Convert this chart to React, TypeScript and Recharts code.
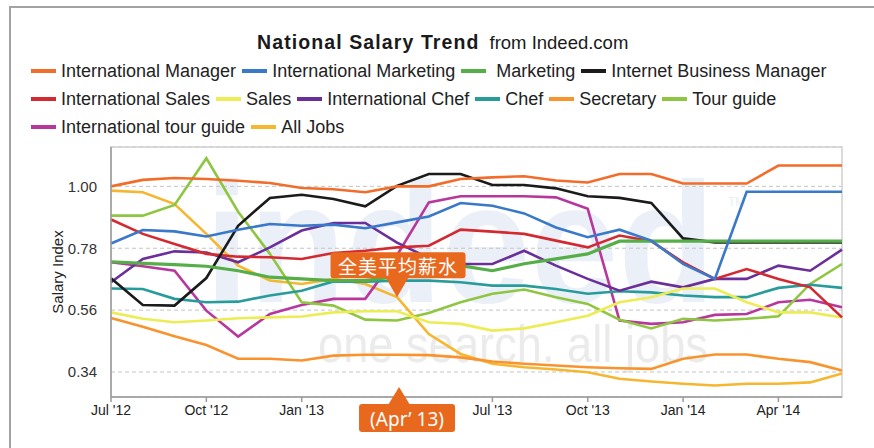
import React from "react";
import { LineChart, Line, XAxis, YAxis, CartesianGrid, ReferenceArea, ReferenceDot } from "recharts";

const months = [
  "Jul '12", "Aug '12", "Sep '12", "Oct '12", "Nov '12", "Dec '12",
  "Jan '13", "Feb '13", "Mar '13", "Apr '13", "May '13", "Jun '13",
  "Jul '13", "Aug '13", "Sep '13", "Oct '13", "Nov '13", "Dec '13",
  "Jan '14", "Feb '14", "Mar '14", "Apr '14", "May '14", "Jun '14",
];

const intlManager = [1.0, 1.023, 1.03, 1.026, 1.02, 1.012, 0.994, 0.99, 0.979, 1.0, 1.0, 1.026, 1.032, 1.036, 1.021, 1.014, 1.044, 1.044, 1.01, 1.01, 1.01, 1.074, 1.074, 1.074];
const intlMarketing = [0.797, 0.845, 0.84, 0.822, 0.846, 0.866, 0.86, 0.864, 0.851, 0.872, 0.893, 0.941, 0.931, 0.904, 0.854, 0.819, 0.846, 0.807, 0.724, 0.671, 0.981, 0.981, 0.981, 0.981];
const marketing = [0.732, 0.726, 0.722, 0.716, 0.7, 0.677, 0.671, 0.665, 0.665, 0.68, 0.71, 0.718, 0.7, 0.725, 0.742, 0.76, 0.805, 0.805, 0.805, 0.805, 0.805, 0.805, 0.805, 0.805];
const internetBizManager = [0.673, 0.578, 0.576, 0.674, 0.86, 0.959, 0.97, 0.955, 0.929, 1.002, 1.044, 1.044, 1.005, 1.005, 0.993, 0.965, 0.959, 0.941, 0.815, 0.801, 0.801, 0.801, 0.801, 0.801];
const intlSales = [0.882, 0.831, 0.795, 0.76, 0.75, 0.748, 0.742, 0.763, 0.771, 0.783, 0.789, 0.846, 0.839, 0.831, 0.807, 0.783, 0.825, 0.805, 0.73, 0.671, 0.706, 0.671, 0.641, 0.534];
const sales = [0.552, 0.529, 0.517, 0.523, 0.531, 0.534, 0.537, 0.552, 0.556, 0.556, 0.517, 0.511, 0.487, 0.495, 0.517, 0.54, 0.588, 0.606, 0.637, 0.637, 0.588, 0.552, 0.552, 0.534];
const intlChef = [0.659, 0.742, 0.769, 0.765, 0.73, 0.783, 0.843, 0.87, 0.87, 0.8, 0.745, 0.724, 0.724, 0.771, 0.718, 0.671, 0.629, 0.661, 0.641, 0.671, 0.671, 0.718, 0.7, 0.775];
const chef = [0.637, 0.635, 0.6, 0.588, 0.59, 0.612, 0.629, 0.662, 0.661, 0.665, 0.665, 0.659, 0.647, 0.647, 0.635, 0.618, 0.627, 0.623, 0.612, 0.606, 0.606, 0.639, 0.65, 0.639];
const secretary = [0.532, 0.501, 0.467, 0.436, 0.387, 0.387, 0.381, 0.398, 0.401, 0.401, 0.4, 0.392, 0.377, 0.369, 0.363, 0.357, 0.353, 0.351, 0.387, 0.402, 0.402, 0.387, 0.375, 0.345];
const tourGuide = [0.896, 0.896, 0.934, 1.1, 0.91, 0.76, 0.588, 0.576, 0.526, 0.523, 0.55, 0.588, 0.618, 0.633, 0.606, 0.582, 0.526, 0.495, 0.529, 0.523, 0.529, 0.538, 0.653, 0.724];
const intlTourGuide = [0.73, 0.716, 0.7, 0.558, 0.466, 0.546, 0.578, 0.6, 0.6, 0.755, 0.943, 0.965, 0.965, 0.965, 0.961, 0.92, 0.523, 0.511, 0.517, 0.543, 0.546, 0.588, 0.597, 0.57];
const allJobs = [0.985, 0.979, 0.937, 0.831, 0.718, 0.665, 0.653, 0.671, 0.653, 0.606, 0.475, 0.404, 0.369, 0.357, 0.349, 0.339, 0.316, 0.306, 0.298, 0.292, 0.298, 0.298, 0.303, 0.335];

const SERIES = [
  { key: "intlManager", name: "International Manager", color: "#f26c2a", values: intlManager },
  { key: "intlMarketing", name: "International Marketing", color: "#3a78c9", values: intlMarketing },
  { key: "marketing", name: " Marketing", color: "#55ae47", values: marketing },
  { key: "internetBizManager", name: "Internet Business Manager", color: "#1b1b1b", values: internetBizManager },
  { key: "intlSales", name: "International Sales", color: "#d22a30", values: intlSales },
  { key: "sales", name: "Sales", color: "#ecec55", values: sales },
  { key: "intlChef", name: "International Chef", color: "#6b2f99", values: intlChef },
  { key: "chef", name: "Chef", color: "#289c9a", values: chef },
  { key: "secretary", name: "Secretary", color: "#f8932d", values: secretary },
  { key: "tourGuide", name: "Tour guide", color: "#8ec641", values: tourGuide },
  { key: "intlTourGuide", name: "International tour guide", color: "#b8379d", values: intlTourGuide },
  { key: "allJobs", name: "All Jobs", color: "#f5b731", values: allJobs },
];

const yTicks = [0.34, 0.56, 0.78, 1.0];
const Y_MIN = 0.251;
const Y_MAX = 1.14;
const CALLOUT_MONTH = "Apr '13";

const data = months.map((month, i) => {
  const row: Record<string, string | number> = { month };
  SERIES.forEach((s) => {
    row[s.key] = s.values[i];
  });
  return row;
});

const FONT = "'Liberation Sans', Arial, sans-serif";
const CALLOUT = "#e8681e";

// box above the All Jobs point, arrow pointing down at it
function TopCallout(props: any) {
  const { cx, cy } = props;
  return (
    <g>
      <polygon points={`${cx},${cy} ${cx - 11.5},${cy - 20} ${cx + 11.5},${cy - 20}`} fill={CALLOUT} />
      <rect x={cx - 66.5} y={cy - 45} width={135} height={26} rx={3} fill={CALLOUT} />
      <text
        x={cx + 1}
        y={cy - 31.5}
        textAnchor="middle"
        dominantBaseline="central"
        fill="#fff"
        fontSize={19}
        letterSpacing={1}
        fontFamily="'Noto Sans CJK SC', sans-serif"
      >
        全美平均薪水
      </text>
    </g>
  );
}

// month marker under the x axis, arrow pointing up
function BottomCallout(props: any) {
  const { cx, cy } = props;
  return (
    <g>
      <polygon points={`${cx + 2},${cy - 10} ${cx - 9},${cy + 8} ${cx + 13},${cy + 8}`} fill={CALLOUT} />
      <rect x={cx - 38} y={cy + 7} width={96} height={28} rx={3} fill={CALLOUT} />
      <text
        x={cx + 10}
        y={cy + 21.5}
        textAnchor="middle"
        dominantBaseline="central"
        fill="#fff"
        fontSize={19}
        fontFamily="'Noto Sans', sans-serif"
      >
        (Apr’ 13)
      </text>
    </g>
  );
}

export default function App() {
  return (
    <div style={{ position: "absolute", left: 0, top: 0, width: 874, height: 448, overflow: "hidden", background: "#fff" }}>
      <div
        style={{
          position: "absolute",
          left: 9,
          top: 6,
          width: 874,
          height: 448,
          borderTop: "2px solid #a3a3a3",
          borderLeft: "2px solid #a3a3a3",
        }}
      />

      {/* faded watermark */}
      <svg width={874} height={448} style={{ position: "absolute", left: 0, top: 0 }}>
        <text
          x={205}
          y={302}
          fontFamily={FONT}
          fontWeight="bold"
          fontSize={170}
          fill="#ebf0f8"
          textLength={510}
          lengthAdjust="spacingAndGlyphs"
        >
          indeed
        </text>
        <text x={728} y={206} fontFamily={FONT} fontSize={12} fill="#e8edf6">
          TM
        </text>
        <text
          x={318}
          y={362}
          fontFamily={FONT}
          fontSize={52}
          fill="#ebebeb"
          textLength={390}
          lengthAdjust="spacingAndGlyphs"
        >
          one search. all jobs
        </text>
      </svg>

      <div style={{ position: "absolute", left: 257, top: 30, whiteSpace: "nowrap", fontFamily: FONT, color: "#1a1a1a", lineHeight: "24px" }}>
        <span style={{ fontWeight: "bold", fontSize: 19.5, letterSpacing: 1.1 }}>National Salary Trend</span>
        <span style={{ fontSize: 18.5, marginLeft: 10 }}>from Indeed.com</span>
      </div>

      <div
        style={{
          position: "absolute",
          left: 31,
          top: 57,
          width: 815,
          display: "flex",
          flexWrap: "wrap",
          fontFamily: FONT,
          fontSize: 18,
          color: "#222",
          lineHeight: "28px",
        }}
      >
        {SERIES.map((s) => (
          <div key={s.key} style={{ display: "flex", alignItems: "center", marginRight: 6, whiteSpace: "pre" }}>
            <span style={{ display: "inline-block", width: 25, height: 4, background: s.color, marginRight: 5 }} />
            <span>{s.name}</span>
          </div>
        ))}
      </div>

      <div
        style={{
          position: "absolute",
          left: 57,
          top: 272,
          transform: "translate(-50%, -50%) rotate(-90deg)",
          whiteSpace: "nowrap",
          fontFamily: FONT,
          fontSize: 15,
          color: "#222",
        }}
      >
        Salary Index
      </div>

      <LineChart
        width={874}
        height={448}
        data={data}
        margin={{ top: 147, right: 32, bottom: 21, left: 51 }}
        style={{ position: "absolute", left: 0, top: 0 }}
      >
        <CartesianGrid vertical={false} stroke="#c4c4c4" strokeDasharray="4 3" />
        <ReferenceArea x1={months[0]} x2={months[months.length - 1]} y1={Y_MIN} y2={Y_MAX} fill="none" stroke="#cfcfcf" strokeWidth={1.5} ifOverflow="visible" />
        <XAxis
          dataKey="month"
          interval={2}
          height={30}
          tickSize={5}
          tickMargin={3}
          stroke="#9a9a9a"
          strokeWidth={1.5}
          tickFormatter={(v: string) => (v === CALLOUT_MONTH ? "" : v)}
          tick={{ fill: "#222", fontSize: 14, fontFamily: FONT }}
        />
        <YAxis
          type="number"
          domain={[Y_MIN, Y_MAX]}
          ticks={yTicks}
          width={60}
          tickLine={false}
          tickMargin={8}
          stroke="#9a9a9a"
          strokeWidth={1.5}
          tickFormatter={(v: number) => v.toFixed(2)}
          tick={{ fill: "#333", fontSize: 15, fontFamily: FONT }}
        />
        {[...SERIES].reverse().map((s) => (
          <Line
            key={s.key}
            type="linear"
            dataKey={s.key}
            name={s.name}
            stroke={s.color}
            strokeWidth={s.key === "marketing" ? 3.2 : 2.6}
            dot={false}
            activeDot={false}
            isAnimationActive={false}
          />
        ))}
        <ReferenceDot x={CALLOUT_MONTH} y={allJobs[months.indexOf(CALLOUT_MONTH)]} r={0} ifOverflow="visible" shape={TopCallout} />
        <ReferenceDot x={CALLOUT_MONTH} y={Y_MIN} r={0} ifOverflow="visible" shape={BottomCallout} />
      </LineChart>
    </div>
  );
}
